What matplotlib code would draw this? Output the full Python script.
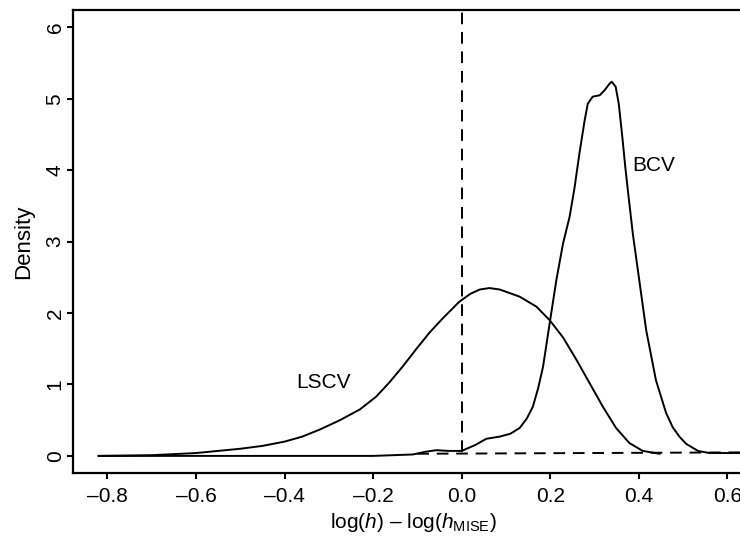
import matplotlib.pyplot as plt

plt.rcParams['font.family'] = ['Liberation Sans', 'DejaVu Sans']
plt.rcParams['mathtext.fontset'] = 'custom'
plt.rcParams['mathtext.rm'] = 'Liberation Sans'
plt.rcParams['mathtext.it'] = 'Liberation Sans:italic'
plt.rcParams['mathtext.bf'] = 'Liberation Sans:bold'

# density of log(h) - log(h_MISE)
lscv_x = [-0.82, -0.7, -0.6, -0.5, -0.45, -0.40, -0.36, -0.32, -0.275, -0.23,
          -0.193, -0.163, -0.132, -0.102, -0.072, -0.042, -0.005, 0.02, 0.041, 0.063,
          0.086, 0.131, 0.169, 0.199, 0.229, 0.259, 0.289, 0.319, 0.349, 0.379,
          0.409, 0.447]
lscv_y = [0.0, 0.01, 0.04, 0.10, 0.14, 0.20, 0.27, 0.37, 0.50, 0.65,
          0.83, 1.03, 1.26, 1.50, 1.73, 1.93, 2.16, 2.27, 2.33, 2.35,
          2.33, 2.23, 2.09, 1.90, 1.66, 1.35, 1.02, 0.69, 0.39, 0.18,
          0.07, 0.03]

bcv_x = [-0.82, -0.5, -0.2, -0.11, -0.08, -0.057, -0.03, 0.0, 0.03, 0.056,
         0.086, 0.11, 0.131, 0.147, 0.161, 0.173, 0.184, 0.199, 0.214, 0.229,
         0.244, 0.255, 0.266, 0.278, 0.285, 0.296, 0.312, 0.323, 0.334, 0.339,
         0.348, 0.355, 0.363, 0.370, 0.377, 0.387, 0.402, 0.417, 0.439, 0.462,
         0.477, 0.492, 0.507, 0.534, 0.56, 0.65]
bcv_y = [0.0, 0.0, 0.0, 0.02, 0.06, 0.08, 0.07, 0.07, 0.15, 0.24,
         0.27, 0.31, 0.39, 0.52, 0.69, 0.95, 1.25, 1.86, 2.46, 2.97,
         3.35, 3.75, 4.23, 4.70, 4.93, 5.03, 5.05, 5.12, 5.21, 5.24,
         5.17, 4.93, 4.47, 4.03, 3.64, 3.10, 2.43, 1.76, 1.06, 0.60,
         0.40, 0.27, 0.17, 0.07, 0.04, 0.04]

base_x = [-0.1, 0.66]
base_y = [0.03, 0.05]

xticks = [-0.8, -0.6, -0.4, -0.2, 0.0, 0.2, 0.4, 0.6]
yticks = [0, 1, 2, 3, 4, 5, 6]

fig = plt.figure(figsize=(7.4, 5.4), dpi=100)
ax = fig.add_axes([0.0986, 0.124, 0.92, 0.857])

ax.plot(lscv_x, lscv_y, color='black', lw=1.4, solid_joinstyle='round')
ax.plot(bcv_x, bcv_y, color='black', lw=1.4, solid_joinstyle='round')
ax.plot(base_x, base_y, color='black', lw=1.4, ls=(0, (6, 4)))
ax.plot([0, 0], [0.05, 6.3], color='black', lw=1.4, ls=(0, (6, 4)))

ax.text(-0.312, 1.03, 'LSCV', fontsize=15, ha='center', va='center')
ax.text(0.433, 4.06, 'BCV', fontsize=15, ha='center', va='center')

ax.set_xlim(-0.878, 0.66)
ax.set_ylim(-0.24, 6.24)
ax.set_xticks(xticks)
ax.set_xticklabels(['\u20130.8', '\u20130.6', '\u20130.4', '\u20130.2', '0.0', '0.2', '0.4', '0.6'])
ax.set_yticks(yticks)
ax.set_yticklabels([str(v) for v in yticks], rotation=90, va='center')
ax.tick_params(axis='x', labelsize=15, width=1.5, length=4.5, direction='out', pad=5.5)
ax.tick_params(axis='y', labelsize=15, width=1.5, length=4, direction='out', pad=2)

for s in ['left', 'bottom', 'top']:
    ax.spines[s].set_linewidth(1.6)
ax.spines['right'].set_visible(False)

ax.set_xlabel('log($h$) \u2013 log($h_{\\mathrm{MISE}}$)', fontsize=15, labelpad=4)
ax.set_ylabel('Density', fontsize=16, labelpad=8)

fig.savefig('out.png', dpi=100)
